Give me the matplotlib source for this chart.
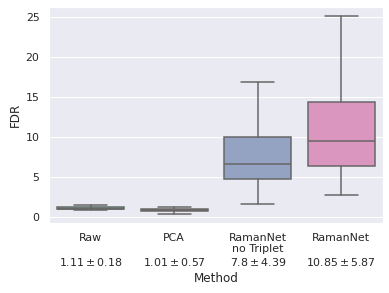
import matplotlib
matplotlib.use("Agg")
import matplotlib.pyplot as plt
import seaborn as sns

# per-method FDR box stats
methods = ["Raw", "PCA", "RamanNet\nno Triplet", "RamanNet"]
means = [1.11, 1.01, 7.8, 10.85]
stds = [0.18, 0.57, 4.39, 5.87]
whislo = [0.95, 0.45, 1.7, 2.8]
q1 = [1.0, 0.75, 4.8, 6.45]
med = [1.1, 0.95, 6.7, 9.5]
q3 = [1.25, 1.1, 10.0, 14.4]
whishi = [1.5, 1.3, 16.9, 25.2]

sns.set_theme(style="darkgrid")

pal = [sns.desaturate(c, 0.75) for c in sns.color_palette("Set2", len(methods))]
gray = "#656565"

stats = [
    dict(whislo=a, q1=b, med=c, q3=d, whishi=e, fliers=[])
    for a, b, c, d, e in zip(whislo, q1, med, q3, whishi)
]

fig = plt.figure(figsize=(389 / 72, 293 / 72), dpi=72)
ax = fig.add_axes([49 / 389, 1 - 223.3 / 293, (383 - 49) / 389, (223.3 - 7) / 293])

line = dict(color=gray, linewidth=1.5)
bp = ax.bxp(stats, positions=range(len(methods)), widths=0.8, patch_artist=True,
            showfliers=False, boxprops=dict(edgecolor=gray, linewidth=1.5),
            whiskerprops=line, capprops=line, medianprops=line)
for box, c in zip(bp["boxes"], pal):
    box.set_facecolor(c)

labels = []
for name, m, s in zip(methods, means, stds):
    if "\n" not in name:
        name = name + "\n"
    labels.append(f"{name}\n${m:g} \\pm {s:g}$")
ax.set_xticks(range(len(methods)))
ax.set_xticklabels(labels)
ax.set_xlim(-0.5, len(methods) - 0.5)
ax.set_ylim(-0.75, 26.3)
ax.set_yticks([0, 5, 10, 15, 20, 25])
ax.xaxis.grid(False)
ax.set_xlabel("Method")
ax.set_ylabel("FDR")

fig.savefig("out.png", dpi=72)
